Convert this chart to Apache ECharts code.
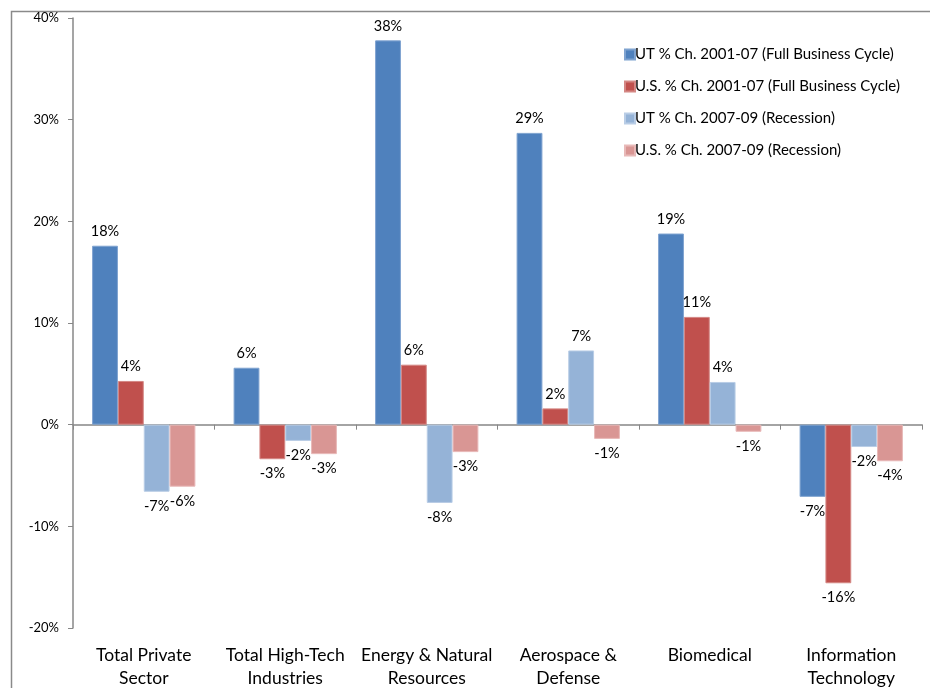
<!DOCTYPE html>
<html>
<head>
<meta charset="utf-8">
<script src="https://cdn.jsdelivr.net/npm/echarts@6/dist/echarts.min.js"></script>
<style>html,body{margin:0;padding:0;background:#fff}#c{width:930px;height:688px}</style>
</head>
<body>
<div id="c"></div>
<script>
const categories = ["Total Private\nSector", "Total High-Tech\nIndustries", "Energy & Natural\nResources", "Aerospace &\nDefense", "Biomedical", "Information\nTechnology"];
const seriesNames = ["UT % Ch. 2001-07 (Full Business Cycle)", "U.S. % Ch. 2001-07 (Full Business Cycle)", "UT % Ch. 2007-09 (Recession)", "U.S. % Ch. 2007-09 (Recession)"];
const utFull = [17.6, 5.6, 37.8, 28.7, 18.8, -7.1];
const usFull = [4.3, -3.4, 5.9, 1.6, 10.6, -15.6];
const utRec = [-6.6, -1.6, -7.7, 7.3, 4.2, -2.2];
const usRec = [-6.1, -2.9, -2.7, -1.4, -0.7, -3.6];
const yTicks = { min: -20, max: 40, interval: 10 };

const colors = ["#4F81BD", "#C0504D", "#95B3D7", "#D99694"];
const borders = ["#7FA3D0", "#D48784", "#B9CDE6", "#E8B9B8"];
const font = "Lato, 'Liberation Sans', sans-serif";
const values = [utFull, usFull, utRec, usRec];

const series = values.map((arr, i) => ({
  name: seriesNames[i],
  type: 'bar',
  xAxisIndex: 0,
  barGap: '0%',
  barCategoryGap: '27%',
  itemStyle: { color: colors[i], borderColor: borders[i], borderWidth: 1 },
  data: arr.map(v => ({
    value: v,
    label: {
      show: true,
      position: v >= 0 ? 'top' : 'bottom',
      distance: 7,
      formatter: p => Math.round(p.value) + '%',
      fontFamily: font, fontSize: 14.5, color: '#000'
    }
  }))
}));

const chart = echarts.init(document.getElementById('c'), null, { renderer: 'canvas' });
chart.setOption({
  animation: false,
  color: colors,
  grid: { left: 73, right: 8, top: 18, bottom: 60, containLabel: false, outerBoundsMode: 'none' },
  legend: {
    orient: 'vertical', left: 619, top: 42,
    itemWidth: 10, itemHeight: 10, itemGap: 17, icon: 'rect',
    textStyle: { fontFamily: font, fontSize: 15, color: '#000', padding: [0, 0, 0, -5] },
    data: seriesNames
  },
  xAxis: [
    {
      type: 'category', data: categories,
      axisLine: { onZero: true, lineStyle: { color: '#878787', width: 1.5 } },
      axisTick: { show: true, length: 5, lineStyle: { color: '#878787' } },
      axisLabel: { show: false }
    },
    {
      type: 'category', data: categories, position: 'bottom',
      axisLine: { show: false, onZero: false },
      axisTick: { show: false },
      axisLabel: { show: true, interval: 0, margin: 16, fontFamily: font, fontSize: 17.5, color: '#000', lineHeight: 23 }
    }
  ],
  yAxis: {
    type: 'value', min: yTicks.min, max: yTicks.max, interval: yTicks.interval,
    splitLine: { show: false },
    axisLine: { show: true, lineStyle: { color: '#878787', width: 1.5 } },
    axisTick: { show: true, length: 5, lineStyle: { color: '#878787' } },
    axisLabel: { formatter: '{value}%', fontFamily: font, fontSize: 13, color: '#000', margin: 14 }
  },
  graphic: [{
    type: 'rect', left: 9, top: 9, shape: { width: 940, height: 700 },
    style: { fill: 'none', stroke: '#8A8A8A', lineWidth: 1.5 }, silent: true, z: -1
  }],
  series: series
});
</script>
</body>
</html>
